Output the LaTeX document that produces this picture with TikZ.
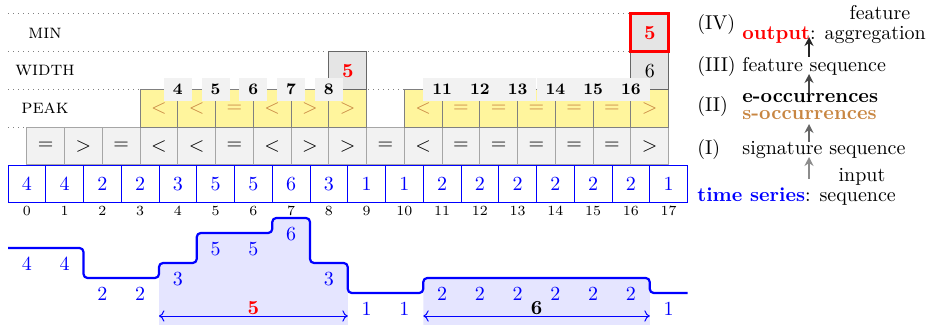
\documentclass[tikz,border=0pt]{standalone}
\usetikzlibrary{arrows.meta}
\definecolor{socc}{RGB}{200,134,66}
\definecolor{peakfill}{RGB}{255,245,157}
\begin{document}
\begin{tikzpicture}[x=0.5pt,y=-0.5pt,
  cellbase/.style={minimum width=18.875pt,minimum height=18.875pt,inner sep=0pt,outer sep=0pt,anchor=center},
  tscell/.style={cellbase,draw=blue,line width=0.45pt,text=blue,fill=white},
  sigcell/.style={cellbase,draw=gray!70,fill=gray!10,line width=0.6pt},
  peakcell/.style={cellbase,draw=gray,fill=peakfill,text=socc,line width=0.6pt},
  featcell/.style={cellbase,draw=black!60,fill=gray!20,line width=0.6pt},
  mincell/.style={cellbase,draw=red,fill=gray!20,line width=1.5pt},
  idxlab/.style={font=\footnotesize\bfseries,fill=gray!10,inner xsep=4.5pt,inner ysep=3.2pt},
  idxnum/.style={font=\scriptsize,inner sep=0pt},
  rowlab/.style={font=\scshape,inner sep=0pt},
  dotline/.style={gray,dotted,line width=0.5pt},
  curve/.style={blue,line width=1.1pt,rounded corners=2pt},
  shade/.style={fill=blue!10,rounded corners=2pt},
  spanarrow/.style={blue,line width=0.5pt,<->},
  vallab/.style={text=blue,inner sep=0pt},
  leg/.style={anchor=base west,inner sep=0pt},
  legc/.style={anchor=base,inner sep=0pt},
  uparrow/.style={line width=1.2pt,-{Stealth[length=4.5pt,width=4.5pt]}}
]
\useasboundingbox (0,0) rectangle (935,325);

% dotted row separators
\coordinate (d1a) at (8,14);      \coordinate (d1b) at (649.75,14);
\coordinate (d2a) at (8,51.75);   \coordinate (d2b) at (649.75,51.75);
\coordinate (d3a) at (8,89.5);    \coordinate (d3b) at (649.75,89.5);
\coordinate (d4a) at (8,127.25);  \coordinate (d4b) at (649.75,127.25);
\draw[dotline] (d1a) -- (d1b);
\draw[dotline] (d2a) -- (d2b);
\draw[dotline] (d3a) -- (d3b);
\draw[dotline] (d4a) -- (d4b);

% row labels
\node[rowlab] (lmin) at (45,32.9) {min};
\node[rowlab] (lwidth) at (45,70.6) {width};
\node[rowlab] (lpeak) at (45,108.4) {peak};

% signature row
\foreach \s [count=\j from 0] in {=,>,=,<,<,=,<,>,>,=,<,=,=,=,=,=,>} {
  \node[sigcell] (s\j) at ({8+37.75*(\j+1)},146.125) {$\s$};
}

% peak row
\foreach \j/\s in {3/<,4/<,5/=,6/<,7/>,8/>,10/<,11/=,12/=,13/=,14/=,15/=,16/>} {
  \node[peakcell] (k\j) at ({8+37.75*(\j+1)},108.375) {$\s$};
}

% width and min rows
\node[featcell,text=red,font=\bfseries] (w8) at (347.75,70.625) {5};
\node[featcell] (w16) at (649.75,70.625) {6};
\node[mincell,text=red,font=\bfseries] (m16) at (649.75,32.875) {5};

% index boxes
\foreach \k in {4,5,6,7,8,11,12,13,14,15,16} {
  \node[idxlab] (p\k) at ({8+37.75*(\k+0.5)},89.5) {\k};
}

% time series row
\foreach \v [count=\i from 0] in {4,4,2,2,3,5,5,6,3,1,1,2,2,2,2,2,2,1} {
  \node[tscell] (t\i) at ({8+37.75*(\i+0.5)},183.875) {\v};
  \node[idxnum] (n\i) at ({8+37.75*(\i+0.5)},211) {\i};
}

% shaded regions
\fill[shade] (159,330) -- (159,263) -- (196.75,263) -- (196.75,233) -- (272.25,233) -- (272.25,218) -- (310,218) -- (310,263) -- (347.75,263) -- (347.75,330) -- cycle;
\fill[shade] (423.25,330) -- (423.25,278) -- (649.75,278) -- (649.75,330) -- cycle;

% step curve
\draw[curve] (8,248) -- (83.5,248) -- (83.5,278) -- (159,278) -- (159,263) -- (196.75,263) -- (196.75,233) -- (272.25,233) -- (272.25,218) -- (310,218) -- (310,263) -- (347.75,263) -- (347.75,293) -- (423.25,293) -- (423.25,278) -- (649.75,278) -- (649.75,293) -- (687.5,293);

% values under the curve
\foreach \v [count=\i from 0] in {4,4,2,2,3,5,5,6,3,1,1,2,2,2,2,2,2,1} {
  \node[vallab] (c\i) at ({8+37.75*(\i+0.5)},{324-15*\v}) {\v};
}

% span arrows
\coordinate (a1l) at (159,316);    \coordinate (a1r) at (347.75,316);
\coordinate (a2l) at (423.25,316); \coordinate (a2r) at (649.75,316);
\draw[spanarrow] (a1l) -- (a1r);
\draw[spanarrow] (a2l) -- (a2r);
\node[text=red,font=\bfseries,inner sep=0pt] (sp1) at (253.4,308) {5};
\node[font=\bfseries,inner sep=0pt] (sp2) at (536.5,308) {6};

% legend
\node[legc] (feat) at (880,19.5) {feature};
\node[leg] (IV) at (697,30) {(IV)};
\node[leg] (outp) at (742,39.5) {\textcolor{red}{\bfseries output}: aggregation};
\node[leg] (III) at (697,72) {(III) feature sequence};
\node[leg] (eocc) at (742,103) {\bfseries e-occurrences};
\node[leg] (II) at (697,111.7) {(II)};
\node[leg,text=socc] (socc) at (742,119.5) {\bfseries s-occurrences};
\node[leg] (I) at (697,155) {(I)};
\node[leg] (sig) at (742,155) {signature sequence};
\node[legc] (inp) at (862,182) {input};
\node[leg] (ts) at (697,201.7) {\textcolor{blue}{\bfseries time series}: sequence};

\coordinate (u1a) at (809,57);  \coordinate (u1b) at (809,37);
\coordinate (u2a) at (809,93);  \coordinate (u2b) at (809,74);
\coordinate (u3a) at (809,142); \coordinate (u3b) at (809,124);
\coordinate (u4a) at (809,179); \coordinate (u4b) at (809,157);
\draw[uparrow,black!85] (u1a) -- (u1b);
\draw[uparrow,black!72] (u2a) -- (u2b);
\draw[uparrow,black!60] (u3a) -- (u3b);
\draw[uparrow,black!45] (u4a) -- (u4b);
\end{tikzpicture}
\end{document}
